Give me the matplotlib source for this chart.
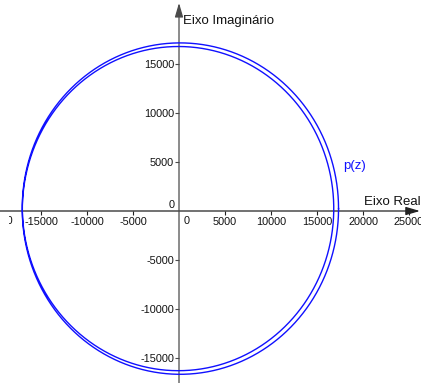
import numpy as np
import matplotlib
matplotlib.use("Agg")
import matplotlib.pyplot as plt
from matplotlib.patches import Rectangle

plt.rcParams['font.family'] = ['Liberation Sans', 'DejaVu Sans']
plt.rcParams['axes.unicode_minus'] = False

# Curve p(z) traced over a closed path: two nearly coincident loops
curve_center = (24.0, 245.0)          # (real, imaginary) offset
curve_semi_axes = (17057.0, 16724.0)  # main (double-winding) term amplitude
curve_inner_term = 260.0              # single-winding term amplitude

# Axes
x_range = (-19457, 26304)
y_range = (-17551, 21531)
x_ticks = [-15000, -10000, -5000, 5000, 10000, 15000, 20000, 25000]
y_ticks = [-15000, -10000, -5000, 5000, 10000, 15000]
x_label = "Eixo Real"
y_label = "Eixo Imaginário"
curve_label = "p(z)"

blue = "#1010ff"
axis_col = "#222222"
fs = 7.8
fs_lab = 9.5

fig = plt.figure(figsize=(4.21, 3.83), dpi=100)
ax = fig.add_axes([0, 0, 1, 1])
ax.set_xlim(*x_range)
ax.set_ylim(*y_range)

t = np.linspace(0, 2 * np.pi, 2000)
cx, cy = curve_center
ax_, ay_ = curve_semi_axes
b = curve_inner_term
xs = cx + ax_ * np.cos(2 * t) + b * np.cos(t)
ys = cy + ay_ * np.sin(2 * t) + b * np.sin(t)
ax.plot(xs, ys, color=blue, lw=1.0, zorder=3)

# Spines at the origin carry the ticks; the axis lines themselves are arrows
for s in ("top", "right"):
    ax.spines[s].set_visible(False)
ax.spines["bottom"].set_position(("data", 0))
ax.spines["left"].set_position(("data", 0))
ax.spines["bottom"].set_color("none")
ax.spines["left"].set_color("none")

arrow = dict(arrowstyle="-|>,head_length=0.85,head_width=0.25",
             color=axis_col, lw=0.9, shrinkA=0, shrinkB=0)
ax.annotate("", xy=(x_range[1] - 120, 0), xytext=(x_range[0], 0),
            arrowprops=arrow, annotation_clip=False, zorder=2)
ax.annotate("", xy=(0, y_range[1] - 300), xytext=(0, y_range[0]),
            arrowprops=dict(arrow, color="#4a4a4a"), annotation_clip=False, zorder=2)

ax.set_xticks(x_ticks)
ax.set_xticklabels([str(v) for v in x_ticks])
ax.set_yticks(y_ticks)
ax.set_yticklabels([str(v) for v in y_ticks])
ax.tick_params(axis="x", direction="out", length=3, width=0.8, pad=1.5,
               labelsize=fs, colors=axis_col, labelcolor="#111111")
ax.tick_params(axis="y", direction="out", length=3, width=0.8, pad=0.5,
               labelsize=fs, colors="#4a4a4a", labelcolor="#111111")

# Partially visible label at the left edge (only its last digit shows)
edge = ax.text(-19850, -560, "-20000", ha="center", va="top", fontsize=fs, color="#111111")
clip = Rectangle((-18478, -4000), 10000, 8000, transform=ax.transData)
edge.set_clip_on(True)
edge.set_clip_path(clip)

# Origin labels
ax.text(870, -520, "0", ha="center", va="top", fontsize=fs, color="#111111")
ax.text(-815, 663, "0", ha="center", va="center", fontsize=fs, color="#111111")

ax.text(20150, 870, x_label, ha="left", va="center", fontsize=fs_lab, color="#111111")
ax.text(400, 19350, y_label, ha="left", va="center", fontsize=fs_lab, color="#111111")
ax.text(19100, 4600, curve_label, ha="center", va="center", fontsize=fs_lab, color=blue)

fig.savefig("out.png", dpi=100)
